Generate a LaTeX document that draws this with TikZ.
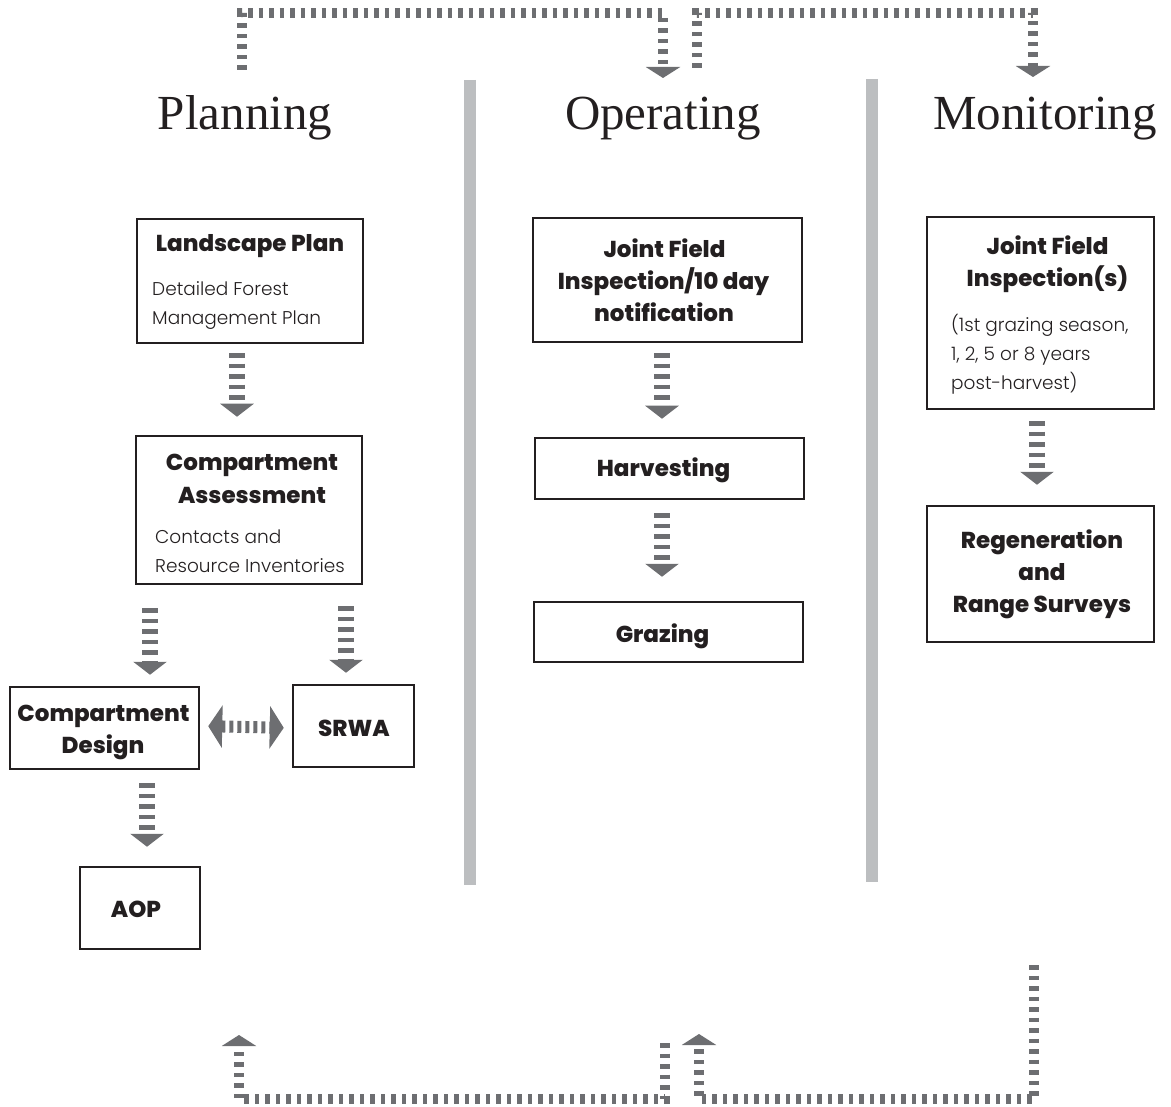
\documentclass[tikz,border=0pt]{standalone}
\usepackage{fontspec}
\setmainfont{Liberation Serif}
\newfontfamily\boxfont[UprightFont={Poppins Light},BoldFont={Poppins ExtraBold}]{Poppins}
\usetikzlibrary{arrows.meta}
\definecolor{arrowgray}{HTML}{6D6E71}
\definecolor{sepgray}{HTML}{BCBEC0}
\definecolor{boxline}{HTML}{231F20}
\begin{document}
\begin{tikzpicture}[x=1pt,y=-1pt,
  box/.style={draw=boxline, line width=2.5pt, inner sep=0pt},
  bt/.style={font=\boxfont\bfseries\fontsize{23}{23}\selectfont, anchor=base, inner sep=0pt, text=boxline},
  rt/.style={font=\boxfont\fontsize{18.5}{18.5}\selectfont, anchor=base west, inner sep=0pt, text=boxline},
  title/.style={font=\fontsize{49}{49}\selectfont, anchor=base, inner sep=0pt, text=boxline},
  sep/.style={draw=sepgray, line width=12pt},
  flow/.style={draw=arrowgray, line width=16pt, dash pattern=on 4.5pt off 6pt, -{Triangle[width=33pt,length=13pt]}},
  flowh/.style={draw=arrowgray, line width=12pt, dash pattern=on 4pt off 4pt, {Triangle[width=42pt,length=14pt]}-{Triangle[width=42pt,length=14pt]}},
  loopar/.style={draw=arrowgray, line width=10.5pt, dash pattern=on 4.5pt off 6pt, -{Triangle[width=34pt,length=11pt]}}
]
\useasboundingbox (0,0) rectangle (1171,1107);
% separators
\draw[sep] (470,80) -- (470,885);
\draw[sep] (872,79) -- (872,882);
% titles
\node[title] (tplan) at (245,130) {Planning};
\node[title] (toper) at (663,130) {Operating};
\node[title] (tmon) at (1045,130) {Monitoring};
% boxes
\node[box, minimum width=226pt, minimum height=124pt] (lp) at (250,281) {};
\node[box, minimum width=226pt, minimum height=148pt] (ca) at (249,510) {};
\node[box, minimum width=189pt, minimum height=82pt] (cd) at (104.5,728) {};
\node[box, minimum width=121pt, minimum height=82pt] (srwa) at (353.5,726) {};
\node[box, minimum width=120pt, minimum height=82pt] (aop) at (140,908) {};
\node[box, minimum width=269pt, minimum height=124pt] (jfi) at (667.5,280) {};
\node[box, minimum width=269pt, minimum height=61pt] (harv) at (669.5,468.5) {};
\node[box, minimum width=269pt, minimum height=60pt] (graz) at (668.5,632) {};
\node[box, minimum width=227pt, minimum height=192pt] (jfim) at (1040.5,313) {};
\node[box, minimum width=227pt, minimum height=136pt] (regen) at (1040.5,574) {};
% texts
\node[bt] (lpt) at (250,252) {Landscape Plan};
\node[rt] (lpr1) at (152,296) {Detailed Forest};
\node[rt] (lpr2) at (152,325) {Management Plan};
\node[bt] (cat1) at (252,471) {Compartment};
\node[bt] (cat2) at (252,503) {Assessment};
\node[rt] (car1) at (155,543) {Contacts and};
\node[rt] (car2) at (155,572) {Resource Inventories};
\node[bt] (cdt1) at (103.5,721) {Compartment};
\node[bt] (cdt2) at (103,753) {Design};
\node[bt] (srwat) at (354,736) {SRWA};
\node[bt] (aopt) at (136,917) {AOP};
\node[bt] (jfit1) at (664.5,258) {Joint Field};
\node[bt] (jfit2) at (663.5,290) {Inspection/10 day};
\node[bt] (jfit3) at (664,322) {notification};
\node[bt] (harvt) at (663.5,476) {Harvesting};
\node[bt] (grazt) at (662.5,642) {Grazing};
\node[bt] (jfimt1) at (1047.5,255) {Joint Field};
\node[bt] (jfimt2) at (1047.5,287) {Inspection(s)};
\node[rt] (jfimr1) at (951,332) {(1st grazing season,};
\node[rt] (jfimr2) at (951,361) {1, 2, 5 or 8 years};
\node[rt] (jfimr3) at (951,390) {post-harvest)};
\node[bt] (regt1) at (1042,548) {Regeneration};
\node[bt] (regt2) at (1042,580) {and};
\node[bt] (regt3) at (1042,612) {Range Surveys};
% flow arrows
\draw[flow, shorten <=9pt, shorten >=18pt] ([xshift=-13pt]lp.south) -- ([xshift=-12pt]ca.north);
\draw[flow, shorten <=23pt, shorten >=11pt] ([xshift=-99pt]ca.south) -- ([xshift=45.5pt]cd.north);
\draw[flow, shorten <=21pt, shorten >=11pt] ([xshift=97pt]ca.south) -- ([xshift=-7.5pt]srwa.north);
\draw[flow, shorten <=13pt, shorten >=19pt] ([xshift=42.5pt]cd.south) -- ([xshift=7pt]aop.north);
\draw[flow, shorten <=10pt, shorten >=18pt] ([xshift=-5.5pt]jfi.south) -- ([xshift=-7.5pt]harv.north);
\draw[flow, shorten <=13pt, shorten >=24pt] ([xshift=-7.5pt]harv.south) -- ([xshift=-6.5pt]graz.north);
\draw[flow, shorten <=11pt, shorten >=20pt] ([xshift=-3.5pt]jfim.south) -- ([xshift=-3.5pt]regen.north);
\draw[flowh, shorten <=8pt, shorten >=8pt] ([yshift=2pt]cd.east) -- (cd.east -| srwa.west);
% loop arrows
\coordinate (pTop) at (242,70);
\coordinate (oIn) at (663,78);
\coordinate (oTop) at (697,68);
\coordinate (mIn) at (1033,77);
\coordinate (oBot) at (665,1043);
\coordinate (pIn) at (239,1035);
\coordinate (mBot) at (1034,965);
\coordinate (oIn2) at (699,1034);
\draw[loopar] (pTop) -- ++(0,-57) -| (oIn);
\draw[loopar] (oTop) -- ++(0,-55) -| (mIn);
\draw[loopar] (oBot) -- ++(0,56) -| (pIn);
\draw[loopar] (mBot) -- ++(0,134) -| (oIn2);
\end{tikzpicture}
\end{document}
